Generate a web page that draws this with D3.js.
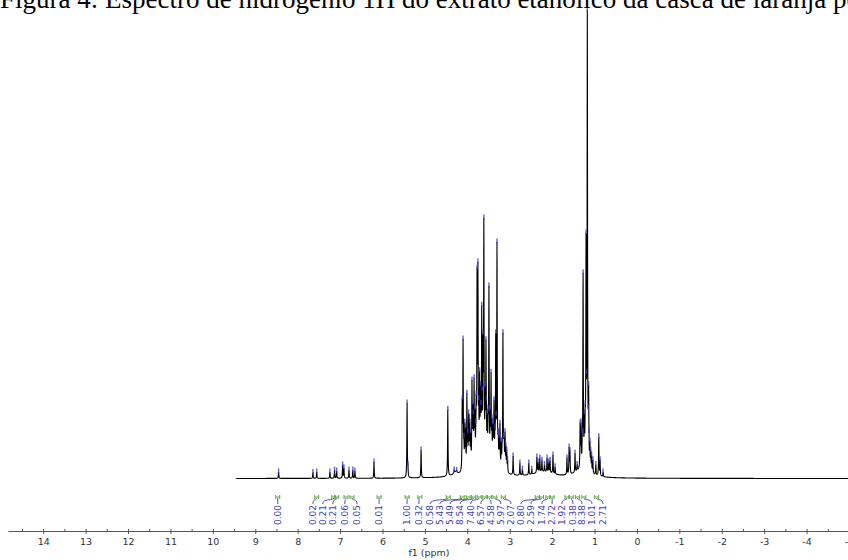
<!DOCTYPE html>
<html>
<head>
<meta charset="utf-8">
<script src="https://cdn.jsdelivr.net/npm/d3@7/dist/d3.min.js"></script>
<style>
  body { margin: 0; background: #fff; }
  svg { display: block; }
</style>
</head>
<body>
<svg id="chart" width="848" height="560"></svg>
<script>

// picked peaks: position in ppm, height in % of the tallest line
let peakPpm = [8.45, 7.64, 7.55, 7.24, 7.13, 7.08, 6.94, 6.91, 6.79, 6.70, 6.65, 6.20,
    5.42, 5.40, 5.09, 4.46, 4.31, 4.25,
    4.12, 4.10, 4.06, 4.01, 3.97, 3.92, 3.89, 3.84, 3.80, 3.77, 3.75, 3.71, 3.66, 3.63,
    3.61, 3.58, 3.56, 3.53, 3.49, 3.46, 3.44, 3.40, 3.37, 3.33, 3.30, 3.27, 3.23, 3.20,
    3.16, 3.13, 3.11, 3.05, 2.92, 2.76, 2.70, 2.55, 2.48, 2.36, 2.33, 2.29, 2.24, 2.18,
    2.12, 2.08, 2.05, 1.98, 1.93, 1.65, 1.60, 1.58, 1.46, 1.41, 1.34, 1.32, 1.27, 1.20,
    1.17, 1.14, 1.11, 1.07, 1.04, 0.97, 0.90, 0.87, 0.80]
let peakHeight = [1.4, 1.3, 1.4, 1.4, 1.8, 1.6, 2.9, 2.3, 1.8, 1.8, 1.6, 3.5,
    16.1, 3.0, 6.1, 14.8, 1.8, 1.5,
    17.0, 29.8, 12.0, 18.2, 14.0, 10.0, 21.0, 21.5, 12.0, 44.9, 46.2, 23.0, 37.0, 31.0,
    55.6, 20.0, 29.6, 14.0, 41.1, 15.0, 22.7, 12.0, 16.8, 31.1, 50.5, 10.0, 11.8, 8.0,
    31.1, 9.0, 10.0, 4.0, 4.8, 3.3, 2.0, 3.3, 2.0, 4.6, 3.5, 4.4, 3.9, 3.0,
    4.4, 3.5, 3.9, 5.0, 2.5, 4.4, 6.7, 6.0, 5.4, 3.0, 11.8, 12.1, 43.9, 52.4,
    100, 20.0, 8.0, 5.0, 4.0, 3.0, 8.9, 4.0, 1.4]

// the crowded, unresolved lines filling the 3-4 ppm block and the 1.2 ppm foot
let fillPpm = [4.08, 4.04, 3.99, 3.95, 3.94, 3.87, 3.86, 3.82, 3.79, 3.73, 3.69, 3.68,
    3.65, 3.60, 3.55, 3.51, 3.48, 3.42, 3.39, 3.35, 3.32, 3.28, 3.25, 3.18, 3.14, 3.09,
    3.07, 1.29, 1.24, 1.22, 1.19, 1.15, 1.13, 1.09]
let fillHeight = [9, 11, 10, 13, 12, 16, 14, 15, 18, 17, 20, 16,
    19, 18, 17, 15, 14, 13, 12, 11, 13, 10, 9, 8, 9, 7,
    6, 10, 14, 16, 18, 15, 10, 6]

// broad unresolved humps under the crowded regions
let humpPpm = [3.62, 2.20, 1.30, 4.28]
let humpHeight = [3.0, 1.2, 1.5, 0.8]
let humpWidth = [0.30, 0.30, 0.20, 0.06]

// integrals: printed value, where the label sits, where its region is
let intValues = ["0.00", "0.02", "0.21", "0.21", "0.06", "0.05", "0.01", "1.00", "0.32",
    "0.58", "5.43", "5.49", "8.54", "7.40", "6.57", "4.58", "5.97", "2.07", "0.80",
    "2.59", "1.74", "2.72", "1.92", "0.38", "8.38", "1.01", "2.71"]
let intLabelPpm = [8.47, 7.64, 7.41, 7.17, 6.89, 6.60, 6.08, 5.42, 5.14,
    4.88, 4.65, 4.41, 4.17, 3.92, 3.68, 3.44, 3.21, 2.97, 2.74,
    2.50, 2.24, 2.00, 1.77, 1.51, 1.30, 1.06, 0.80]
let intRegionPpm = [8.47, 7.55, 7.15, 7.08, 6.86, 6.72, 6.08, 5.42, 5.12,
    4.45, 4.12, 3.98, 3.85, 3.72, 3.60, 3.48, 3.35, 3.15, 2.35,
    2.25, 2.10, 2.00, 1.65, 1.55, 1.40, 1.25, 0.95]

let majorTicks = d3.range(-5, 15)
let minorTicks = d3.range(-4.5, 15, 1)

let titleText = "Figura 4: Espectro de hidrogênio 1H do extrato etanólico da casca de laranja pe"

let svg = d3.select("#chart")

svg.append("rect")
    .attr("width", 848)
    .attr("height", 560)
    .attr("fill", "white")

let x = d3.scaleLinear().domain([14.83, -5]).range([8, 849])
let y = d3.scaleLinear().domain([0, 100]).range([478.5, 10])

let axisY = 531

let allPpm = peakPpm.concat(fillPpm)
let allHeight = peakHeight.concat(fillHeight)

// spectrum: sum of narrow lorentzian lines at the picked peaks
let lineWidth = 0.006
let signal = function(p, amps){
    let s = 0
    for(let i = 0; i < allPpm.length; i++){
        let d = p - allPpm[i]
        s += amps[i] * lineWidth * lineWidth / (d * d + lineWidth * lineWidth)
    }
    for(let i = 0; i < humpPpm.length; i++){
        let d = p - humpPpm[i]
        s += humpHeight[i] * humpWidth[i] * humpWidth[i] / (d * d + humpWidth[i] * humpWidth[i])
    }
    return s
}

// line amplitudes so that the summed curve reaches the read heights
let amps = allHeight.slice()
for(let k = 0; k < 30; k++){
    let next = amps.map((a, i) => Math.max(0.3, allHeight[i] - (signal(allPpm[i], amps) - a)))
    amps = next
}

let grid = d3.range(9.45, -5.2, -0.0025).concat(allPpm)
grid.sort((a, b) => b - a)
let spectrum = grid.map(p => [p, signal(p, amps)])

let line = d3.line()
    .x(d => x(d[0]))
    .y(d => y(d[1]))

svg.append("path")
    .datum(spectrum)
    .attr("d", line)
    .attr("fill", "none")
    .attr("stroke", "black")
    .attr("stroke-width", 1.1)

// peak picking marks
svg.append("g")
    .selectAll("line")
    .data(allPpm)
    .join("line")
    .attr("x1", d => x(d))
    .attr("x2", d => x(d))
    .attr("y1", d => y(signal(d, amps)) - 3.5)
    .attr("y2", d => y(signal(d, amps)) + 1.5)
    .attr("stroke", "rgb(60, 60, 200)")
    .attr("stroke-opacity", 0.8)
    .attr("stroke-width", 1.4)

// integral regions (green) and their connectors (blue)
let integ = svg.append("g")

integ.selectAll("path.link")
    .data(intValues)
    .join("path")
    .attr("class", "link")
    .attr("d", function(d, i){
        let x0 = x(intLabelPpm[i]), x1 = x(intRegionPpm[i])
        if(Math.abs(x0 - x1) < 1) return "M" + x0 + ",504V498"
        return "M" + x0 + ",504C" + x0 + ",498 " + x1 + ",501 " + x1 + ",498"
    })
    .attr("fill", "none")
    .attr("stroke", "rgb(64, 64, 176)")
    .attr("stroke-width", 0.9)

integ.selectAll("path.region")
    .data(intRegionPpm)
    .join("path")
    .attr("class", "region")
    .attr("d", d => "M" + (x(d) - 2) + ",495V499M" + (x(d) + 2) + ",495V499M" + (x(d) - 2) + ",497H" + (x(d) + 2))
    .attr("fill", "none")
    .attr("stroke", "rgb(80, 160, 40)")
    .attr("stroke-width", 0.9)

integ.selectAll("text")
    .data(intValues)
    .join("text")
    .attr("transform", (d, i) => "translate(" + (x(intLabelPpm[i]) + 3.3) + ",525) rotate(-90)")
    .attr("font-family", "DejaVu Sans")
    .attr("font-size", "9px")
    .attr("fill", "rgb(64, 64, 176)")
    .text(d => d)

// ppm axis
let axis = svg.append("g")
    .attr("transform", "translate(0," + axisY + ")")
    .call(d3.axisBottom(x)
        .tickValues(majorTicks)
        .tickFormat(d => String(d))
        .tickSizeInner(3)
        .tickSizeOuter(0)
        .tickPadding(4))

axis.select(".domain").attr("stroke", "#555")
axis.selectAll(".tick line").attr("y1", -2).attr("stroke", "#555")
axis.selectAll(".tick text")
    .attr("font-family", "DejaVu Sans")
    .attr("font-size", "9.5px")
    .attr("fill", "#333")

let minor = svg.append("g")
    .attr("transform", "translate(0," + axisY + ")")
    .call(d3.axisBottom(x)
        .tickValues(minorTicks)
        .tickFormat("")
        .tickSizeInner(-2)
        .tickSizeOuter(0))
minor.select(".domain").remove()
minor.selectAll(".tick line").attr("stroke", "#555")

svg.append("text")
    .attr("x", 429)
    .attr("y", 556)
    .attr("text-anchor", "middle")
    .attr("font-family", "DejaVu Sans")
    .attr("font-size", "9.5px")
    .attr("fill", "#333")
    .text("f1 (ppm)")

// caption, cut off at the top and right like the source page
svg.append("text")
    .attr("x", 0)
    .attr("y", 8)
    .attr("font-family", "Liberation Serif")
    .attr("font-size", "27px")
    .attr("fill", "black")
    .text(titleText)

</script>
</body>
</html>
